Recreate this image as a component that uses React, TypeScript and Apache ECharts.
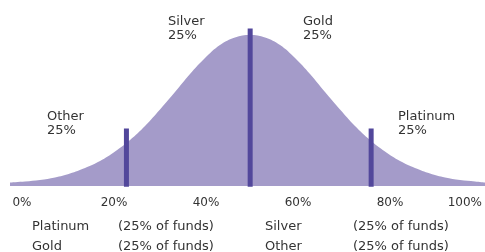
import React, { useEffect, useRef } from "react";
import * as echarts from "echarts";

// Curve (x in % units, height in px-equivalent units)
const curveX = [-2.61, 0.65, 3.91, 7.17, 10.43, 13.7, 16.96, 20.22, 23.48, 26.74, 30.0, 33.26, 36.52, 39.78, 43.04, 46.3, 49.57, 52.83, 56.09, 59.35, 62.61, 65.87, 69.13, 72.39, 75.65, 78.91, 82.17, 85.43, 88.7, 91.96, 95.22, 98.48, 100.65];
const curveH = [3.5, 4.5, 6, 8.5, 12.5, 18, 25, 34.5, 46, 60, 76.5, 94, 112, 128, 141, 148.5, 151, 148.5, 141, 128, 112, 94, 76.5, 60, 46, 34.5, 25, 18, 12.5, 8.5, 6, 4.5, 3.5];

// Quartile dividers
const dividerX = [22.7, 49.6, 75.9];
const dividerH = [57.5, 157.5, 57.5];

// Axis ticks
const tickValues = [0, 20, 40, 60, 80, 100];

// Annotation labels on the curve
const zoneNames = ["Other", "Silver", "Gold", "Platinum"];
const zoneShares = [25, 25, 25, 25];

// Bottom key
const keyLeft = ["Platinum", "Gold"];
const keyRight = ["Silver", "Other"];
const keyShares = [25, 25, 25, 25];

const FILL = "#a49bc9";
const LINE = "#52479b";
const TEXT = "#333333";
const FONT = "DejaVu Sans";

export default function App() {
  const ref = useRef<HTMLDivElement>(null);
  useEffect(() => {
    if (!ref.current) return;
    const chart = echarts.init(ref.current, null, { renderer: "svg" });
    const zonePos = [
      [47, 108],
      [168, 13],
      [303, 13],
      [398, 108],
    ];
    const graphics: any[] = zoneNames.map((n, i) => ({
      type: "text",
      left: zonePos[i][0],
      top: zonePos[i][1],
      style: {
        text: n + "\n" + zoneShares[i] + "%",
        fill: TEXT,
        font: `13px "${FONT}"`,
        lineHeight: 14,
      },
    }));
    const keyRows = [219, 239];
    keyLeft.forEach((n, i) => {
      graphics.push({ type: "text", left: 32, top: keyRows[i], style: { text: n, fill: TEXT, font: `13px "${FONT}"` } });
      graphics.push({ type: "text", left: 118, top: keyRows[i], style: { text: `(${keyShares[i]}% of funds)`, fill: TEXT, font: `13px "${FONT}"` } });
    });
    keyRight.forEach((n, i) => {
      graphics.push({ type: "text", left: 265, top: keyRows[i], style: { text: n, fill: TEXT, font: `13px "${FONT}"` } });
      graphics.push({ type: "text", left: 353, top: keyRows[i], style: { text: `(${keyShares[i + 2]}% of funds)`, fill: TEXT, font: `13px "${FONT}"` } });
    });

    const dividerSeries = dividerX.map((x, i) => ({
      type: "line",
      xAxisIndex: 0,
      yAxisIndex: 0,
      data: [
        [x, -0.7],
        [x, dividerH[i]],
      ],
      symbol: "none",
      silent: true,
      z: 5,
      lineStyle: { color: LINE, width: 5, cap: "butt" },
    }));

    chart.setOption({
      animation: false,
      grid: [
        { left: 10, right: 0, top: 26, bottom: 66 },
        { left: 22, right: 3, top: 26, bottom: 66 },
      ],
      xAxis: [
        { type: "value", gridIndex: 0, min: -2.61, max: 100.65, show: false },
        {
          type: "value",
          gridIndex: 1,
          min: 0,
          max: 100,
          interval: 20,
          axisLine: { show: false },
          axisTick: { show: false },
          splitLine: { show: false },
          axisLabel: {
            margin: 10,
            color: TEXT,
            fontFamily: FONT,
            fontSize: 12,
            alignMaxLabel: "right",
            customValues: tickValues,
            formatter: (v: number) => v + "%",
          },
        },
      ],
      yAxis: [
        { type: "value", gridIndex: 0, min: 0, max: 160, show: false },
        { type: "value", gridIndex: 1, min: 0, max: 160, show: false },
      ],
      graphic: graphics,
      series: [
        {
          type: "line",
          xAxisIndex: 0,
          yAxisIndex: 0,
          data: curveX.map((x, i) => [x, curveH[i]]),
          smooth: 0.4,
          symbol: "none",
          lineStyle: { width: 0 },
          areaStyle: { color: FILL, opacity: 1 },
          silent: true,
          z: 2,
        },
        ...dividerSeries,
      ],
    });
    return () => chart.dispose();
  }, []);
  return <div ref={ref} style={{ position: "fixed", left: 0, top: 0, width: 485, height: 252 }} />;
}
